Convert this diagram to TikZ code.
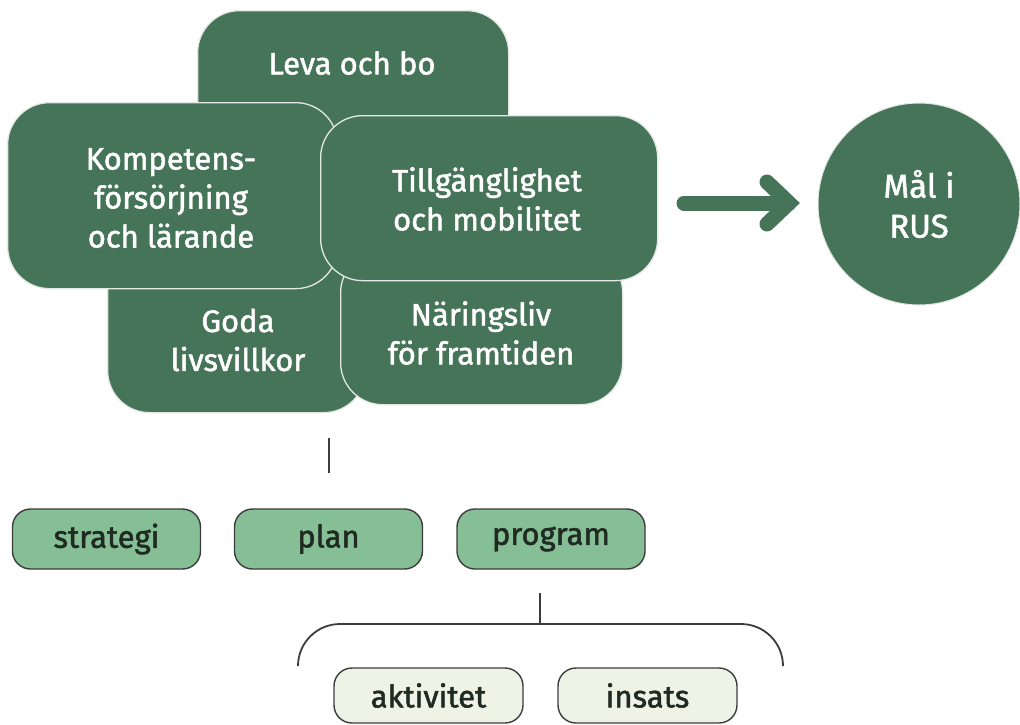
\documentclass[tikz,border=0pt]{standalone}
\usepackage{fontspec}
\setmainfont{Fira Sans}[FakeBold=1.6]
\definecolor{dkgreen}{HTML}{467458}
\definecolor{midgreen}{HTML}{86BF96}
\definecolor{lightfill}{HTML}{EEF3E6}
\definecolor{pillline}{HTML}{3C3C3C}
\definecolor{darktext}{HTML}{1F2A22}
\definecolor{boxline}{HTML}{E2E8E4}
\begin{document}
\begin{tikzpicture}[x=1pt,y=-1pt,
  bigbox/.style={rectangle, fill=dkgreen, draw=boxline, line width=1.3pt, rounded corners=42pt, inner sep=0pt, anchor=north west},
  bigtext/.style={text=white, align=center, font=\fontsize{31}{39}\selectfont, inner sep=0pt},
  pill/.style={rectangle, fill=midgreen, draw=pillline, line width=1.4pt, rounded corners=18pt, minimum width=188pt, minimum height=60pt, inner sep=0pt, text=darktext, font=\fontsize{31}{36}\selectfont},
  lightpill/.style={pill, fill=lightfill, minimum height=55pt},
  conn/.style={draw=pillline, line width=1.8pt},
  bigarrow/.style={draw=dkgreen, line width=15pt, line cap=round}
]
\useasboundingbox (0,0) rectangle (1020,724);

% big boxes, back to front
\node[bigbox, minimum width=311pt, minimum height=190pt] (leva) at (197,10) {};
\node[bigbox, minimum width=258pt, minimum height=162pt] (goda) at (107,250) {};
\node[bigbox, minimum width=282pt, minimum height=154pt] (naer) at (340,250) {};
\node[bigbox, minimum width=330pt, minimum height=186pt] (komp) at (7,102) {};
\node[bigbox, minimum width=337pt, minimum height=165pt] (till) at (320,115) {};

\node[bigtext] (levaT) at (352,63) {Leva och bo};
\node[bigtext] (godaT) at (238,340) {Goda\\livsvillkor};
\node[bigtext] (naerT) at (481,333) {Näringsliv\\för framtiden};
\node[bigtext] (kompT) at (171,198) {Kompetens-\\försörjning\\och lärande};
\node[bigtext] (tillT) at (487,199) {Tillgänglighet\\och mobilitet};

% goal circle
\node[circle, fill=dkgreen, draw=boxline, line width=1pt, minimum size=202pt, inner sep=0pt,
      text=white, align=center, font=\fontsize{33}{40}\selectfont] (rus) at (919,204) {Mål i\\RUS};

% big arrow
\coordinate (arrS) at (684,203);
\coordinate (arrE) at (789,203);
\coordinate (arrT) at (767,182);
\coordinate (arrB) at (767,224);
\draw[bigarrow] (arrS) -- (arrE);
\draw[bigarrow, line join=miter] (arrT) -- (arrE) -- (arrB);

% pills
\node[pill] (strategi) at (106.5,539) {strategi};
\node[pill] (plan) at (328.5,539) {plan};
\node[pill] (program) at (551,539) {program};
\node[lightpill, minimum width=189pt] (aktivitet) at (428.5,695.5) {aktivitet};
\node[lightpill, minimum width=179pt] (insats) at (647.5,695.5) {insats};

% connectors
\coordinate (v1a) at (329,438);
\coordinate (v1b) at (329,473);
\draw[conn] (v1a) -- (v1b);
\coordinate (v2a) at (540,593);
\coordinate (v2b) at (540,624);
\draw[conn] (v2a) -- (v2b);
\coordinate (brL) at (298,663);
\coordinate (brR) at (783,663);
\draw[conn, rounded corners=42pt] (brL) -- (298,624) -- (783,624) -- (brR);
\end{tikzpicture}
\end{document}
